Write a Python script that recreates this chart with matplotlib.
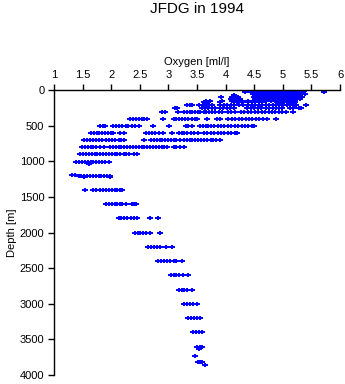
import matplotlib
matplotlib.use("Agg")
import matplotlib.pyplot as plt
from matplotlib.path import Path

plt.rcParams.update({
    "font.family": ["Liberation Sans", "DejaVu Sans"],
    "font.size": 8,
})

MARK = "#0000FF"
# plus sign with a slightly longer horizontal arm, so neighbouring samples join up
PLUS = Path([(-1, 0), (1, 0), (0, -0.6), (0, 0.6)],
            [Path.MOVETO, Path.LINETO, Path.MOVETO, Path.LINETO])

# surface layer (0-180 m): depth of each sampled row and the oxygen values on it
surface_depth = [0, 25, 50, 75, 100, 125, 150, 175]
surface_oxygen = [
    [4.30, 4.42, 4.50, 4.56, 4.62, 4.68, 4.74, 4.80, 4.86, 4.92, 4.98, 5.04, 5.10, 5.16, 5.22, 5.28, 5.34, 5.40],
    [4.34, 4.45, 4.52, 4.58, 4.64, 4.70, 4.76, 4.82, 4.88, 4.94, 5.00, 5.06, 5.12, 5.18, 5.24, 5.30, 5.36, 5.72],
    [4.48, 4.54, 4.60, 4.66, 4.72, 4.78, 4.84, 4.90, 4.96, 5.02, 5.08, 5.14, 5.20, 5.26, 5.32, 5.38],
    [4.15, 4.52, 4.58, 4.64, 4.70, 4.76, 4.82, 4.88, 4.94, 5.00, 5.06, 5.12, 5.18, 5.24, 5.30],
    [3.92, 4.12, 4.22, 4.50, 4.56, 4.62, 4.68, 4.74, 4.80, 4.86, 4.92, 4.98, 5.04, 5.10, 5.16, 5.22, 5.28, 5.34],
    [4.10, 4.18, 4.26, 4.52, 4.58, 4.64, 4.70, 4.76, 4.82, 4.88, 4.94, 5.00, 5.06, 5.12, 5.18, 5.24, 5.30],
    [3.65, 3.72, 3.93, 4.12, 4.20, 4.28, 4.40, 4.50, 4.60, 4.70, 4.80, 4.90, 5.00, 5.10, 5.20],
    [3.63, 3.68, 3.91, 4.14, 4.20, 4.28, 4.40, 4.46, 4.52, 4.58, 4.64, 4.90, 4.96, 5.02, 5.10, 5.16, 5.22],
]

# thermocline / oxygen minimum (200-900 m)
mid_depth = [205, 255, 310, 410, 505, 608, 705, 804, 900]
mid_oxygen = [
    [3.32, 3.37, 3.42, 3.54, 3.60, 3.65, 3.71, 3.77, 3.91, 3.97, 4.03, 4.09, 4.15, 4.24, 4.30, 4.40, 4.46,
     4.52, 4.58, 4.64, 4.70, 4.76, 4.82, 4.88, 4.94, 5.00, 5.07, 5.13, 5.19, 5.23, 5.40],
    [3.12, 3.15, 3.58, 3.64, 3.70, 3.76, 3.82, 3.90, 3.96, 4.02, 4.08, 4.14, 4.38, 4.44, 4.50, 4.56, 4.62,
     4.70, 4.76, 4.82, 4.88, 4.94, 4.99, 5.12, 5.18, 5.28, 5.32],
    [2.89, 2.94, 3.16, 3.27, 3.32, 3.37, 3.42, 3.47, 3.52, 3.56, 3.62, 3.66, 3.71, 3.76, 3.81, 3.88, 3.93,
     4.04, 4.10, 4.16, 4.27, 4.33, 4.39, 4.45, 4.51, 4.57, 4.63, 4.69, 4.75, 4.81, 4.87, 4.93, 4.99, 5.05, 5.17],
    [2.33, 2.38, 2.43, 2.48, 2.53, 2.58, 2.63, 2.91, 3.09, 3.14, 3.19, 3.24, 3.29, 3.34, 3.41, 3.46, 3.50,
     3.68, 3.85, 3.90, 4.05, 4.11, 4.17, 4.23, 4.29, 4.35, 4.41, 4.47, 4.53, 4.59, 4.65, 4.72, 4.88],
    [1.80, 1.85, 1.89, 2.04, 2.09, 2.14, 2.19, 2.25, 2.30, 2.36, 2.42, 2.48, 2.73, 3.01, 3.30, 3.35, 3.41,
     3.55, 3.60, 3.66, 3.70, 3.74, 3.80, 3.86, 3.92, 3.98, 4.04, 4.10, 4.16, 4.22, 4.28, 4.34, 4.40, 4.46, 4.50],
    [1.65, 1.70, 1.75, 1.78, 1.84, 1.89, 1.95, 2.00, 2.04, 2.16, 2.22, 2.61, 2.66, 2.71, 2.76, 2.84, 2.90,
     3.06, 3.18, 3.23, 3.28, 3.33, 3.39, 3.44, 3.51, 3.62, 3.68, 3.74, 3.80, 3.86, 3.92, 3.98, 4.04, 4.10,
     4.16, 4.20],
    [1.53, 1.58, 1.63, 1.68, 1.73, 1.78, 1.84, 1.91, 1.96, 2.01, 2.07, 2.13, 2.18, 2.22, 2.58, 2.70, 2.75,
     2.80, 2.85, 2.89, 2.94, 2.99, 3.04, 3.09, 3.14, 3.20, 3.27, 3.32, 3.37, 3.42, 3.47, 3.52, 3.57, 3.62,
     3.67, 3.74, 3.78, 3.84, 3.90],
    [1.49, 1.54, 1.59, 1.64, 1.69, 1.74, 1.80, 1.88, 1.98, 2.03, 2.08, 2.13, 2.18, 2.23, 2.28, 2.33, 2.38,
     2.43, 2.48, 2.53, 2.58, 2.63, 2.68, 2.73, 2.78, 2.83, 2.88, 2.93, 2.98, 3.09, 3.14, 3.20, 3.27],
    [1.46, 1.51, 1.56, 1.61, 1.66, 1.71, 1.76, 1.81, 1.86, 1.91, 1.96, 2.01, 2.06, 2.11, 2.16, 2.22, 2.26,
     2.31, 2.40, 2.45],
]

# deep water (1000-3900 m)
deep_depth = [1005, 1040, 1195, 1210, 1225, 1405, 1600, 1800, 2010, 2205, 2400, 2600, 2800,
              3000, 3200, 3400, 3600, 3630, 3740, 3820, 3860]
deep_oxygen = [
    [1.39, 1.44, 1.49, 1.54, 1.59, 1.64, 1.69, 1.74, 1.79, 1.84, 1.89, 1.96],
    [1.62],
    [1.32, 1.36],
    [1.43, 1.48, 1.53, 1.58, 1.63, 1.68, 1.73, 1.78, 1.83, 1.88, 1.93, 1.98],
    [1.52, 1.98],
    [1.55, 1.69, 1.74, 1.80, 1.86, 1.91, 1.96, 2.01, 2.06, 2.11, 2.16, 2.19],
    [1.91, 1.96, 2.01, 2.06, 2.11, 2.16, 2.19, 2.25, 2.36, 2.40, 2.44],
    [2.13, 2.18, 2.23, 2.28, 2.34, 2.40, 2.45, 2.68, 2.82],
    [2.41, 2.46, 2.51, 2.56, 2.61, 2.67, 2.85],
    [2.65, 2.70, 2.75, 2.80, 2.86, 2.95, 3.06],
    [2.82, 2.87, 2.92, 2.97, 3.02, 3.10, 3.13, 3.23],
    [3.04, 3.09, 3.14, 3.19, 3.25, 3.35],
    [3.18, 3.23, 3.28, 3.32, 3.41],
    [3.28, 3.33, 3.38, 3.43, 3.50],
    [3.35, 3.40, 3.45, 3.50, 3.55],
    [3.43, 3.48, 3.53, 3.59],
    [3.50, 3.55, 3.58],
    [3.53],
    [3.47],
    [3.51, 3.55, 3.58],
    [3.64],
]

x_ticks = [1, 1.5, 2, 2.5, 3, 3.5, 4, 4.5, 5, 5.5, 6]
x_ticklabels = ["1", "1.5", "2", "2.5", "3", "3.5", "4", "4.5", "5", "5.5", "6"]
y_ticks = [0, 500, 1000, 1500, 2000, 2500, 3000, 3500, 4000]

fig = plt.figure(figsize=(3.45, 3.84), dpi=100)
ax = fig.add_axes([54 / 345, 9 / 384, 286 / 345, 285 / 384])

for depths, rows in [(surface_depth, surface_oxygen),
                     (mid_depth, mid_oxygen),
                     (deep_depth, deep_oxygen)]:
    for d, row in zip(depths, rows):
        ax.plot(row, [d] * len(row), ls="none", marker=PLUS, ms=4.5, mew=1.4,
                color=MARK, antialiased=False)

ax.set_xlim(1, 6)
ax.set_ylim(4000, 0)
ax.xaxis.tick_top()
ax.xaxis.set_label_position("top")
ax.set_xticks(x_ticks)
ax.set_xticklabels(x_ticklabels)
ax.set_yticks(y_ticks)
ax.tick_params(axis="x", length=4, width=1, pad=3, labelsize=8)
ax.tick_params(axis="y", length=4, width=1, pad=3, labelsize=8)
ax.spines["right"].set_visible(False)
ax.spines["bottom"].set_visible(False)
ax.spines["top"].set_linewidth(1)
ax.spines["left"].set_linewidth(1)
ax.set_xlabel("Oxygen [ml/l]", fontsize=8, labelpad=4)
ax.set_ylabel("Depth [m]", fontsize=8, labelpad=2)

fig.text(197 / 345, 1 - 9 / 384, "JFDG in 1994", ha="center", va="center",
         fontsize=11)

fig.savefig("out.png", dpi=100)
